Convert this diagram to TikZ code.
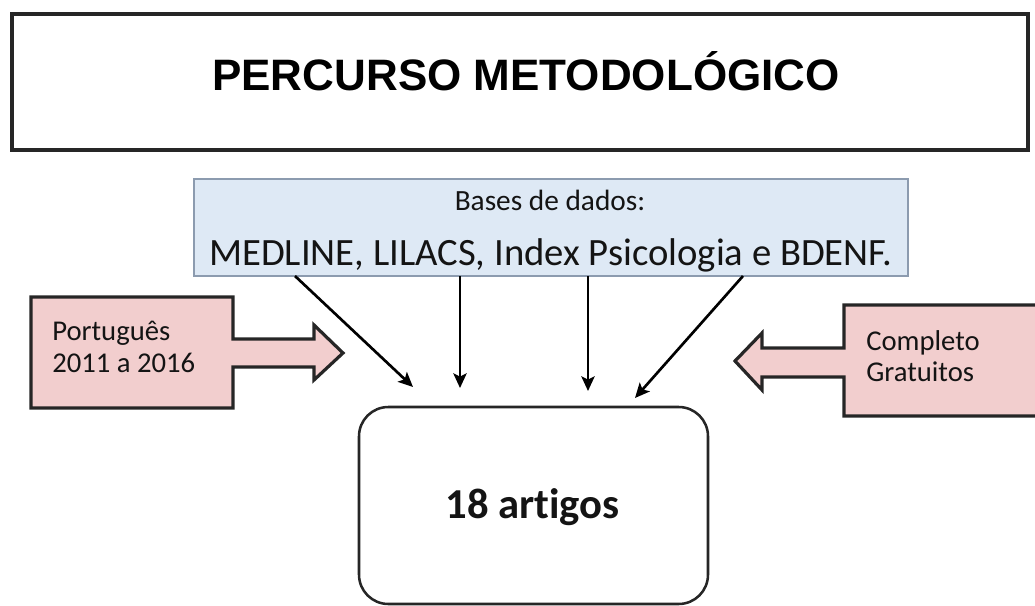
\documentclass[tikz,border=0pt]{standalone}
\usepackage{fontspec}
\setmainfont{Carlito}[Ligatures=NoCommon]
\newfontfamily\titlefont{Liberation Sans}
\usetikzlibrary{arrows.meta,calc}
\definecolor{pinkfill}{RGB}{242,206,206}
\definecolor{bluefill}{RGB}{222,233,245}
\definecolor{blueborder}{RGB}{140,155,175}
\definecolor{darkline}{RGB}{38,38,38}
\definecolor{txt}{RGB}{20,20,20}
\begin{document}
\begin{tikzpicture}[x=0.75pt,y=-0.75pt,
  titlebox/.style={draw=darkline, line width=2.6pt, inner sep=0pt, outer sep=0pt, fill=white},
  dbbox/.style={draw=blueborder, line width=1.2pt, fill=bluefill, inner sep=0pt, outer sep=0pt},
  resultbox/.style={draw=darkline, line width=1.9pt, rounded corners=22pt, inner sep=0pt, outer sep=0pt},
  callout/.style={draw=darkline, line width=2.4pt, fill=pinkfill, line join=miter},
  flow/.style={draw=black, line width=2pt, -{Stealth[length=11pt,width=10pt,inset=2.5pt]}},
  lbl/.style={anchor=base, inner sep=0pt, text=txt},
  side/.style={anchor=base west, inner sep=0pt, text=txt, font=\fontsize{21.5}{26}\selectfont}
]
\useasboundingbox (0,0) rectangle (1035,606);

% title
\node[titlebox, minimum width=762pt, minimum height=102pt] (titlebox) at (520,82) {};
\node[lbl, text=black, font=\titlefont\bfseries\fontsize{33}{40}\selectfont] (title) at (526,90.5) {PERCURSO METODOLÓGICO};

% databases box
\node[dbbox, minimum width=535.5pt, minimum height=72.75pt] (bases) at (551,227.5) {};
\node[lbl, font=\fontsize{22}{26}\selectfont] (basestitle) at (550,210) {Bases de dados:};
\node[lbl, font=\fontsize{29}{34}\selectfont] (baseslist) at (551,265) {MEDLINE, LILACS, Index Psicologia e BDENF.};

% result box
\node[resultbox, minimum width=261.75pt, minimum height=147.75pt] (artigos) at (533.5,505.5) {};
\node[lbl, font=\bfseries\fontsize{32}{38}\selectfont] (artigostxt) at (532.5,518) {18 artigos};

% connectors
\draw[flow] ($(bases.south west)+(101,0)$) -- ($(artigos.north west)+(54,-20)$);
\draw[flow] ($(bases.south west)+(266,0)$) -- ($(artigos.north west)+(101,-19)$);
\draw[flow] ($(bases.south west)+(394,0)$) -- ($(artigos.north west)+(229,-16)$);
\draw[flow] ($(bases.south west)+(549,0)$) -- ($(artigos.north west)+(276,-9)$);

% left callout arrow
\draw[callout] (31,297) -- (233,297) -- (233,339) -- (314,339) -- (314,325) -- (343,353)
  -- (314,380) -- (314,367) -- (233,367) -- (233,408) -- (31,408) -- cycle;
\node[side] (pt1) at (52,340) {Português};
\node[side] (pt2) at (52,372.7) {2011 a 2016};

% right callout arrow
\draw[callout] (1045,305) -- (844,305) -- (844,348) -- (762,348) -- (762,333) -- (735,361)
  -- (762,390) -- (762,377) -- (844,377) -- (844,416) -- (1045,416) -- cycle;
\node[side] (cg1) at (866,350) {Completo};
\node[side] (cg2) at (866,381.7) {Gratuitos};
\end{tikzpicture}
\end{document}
